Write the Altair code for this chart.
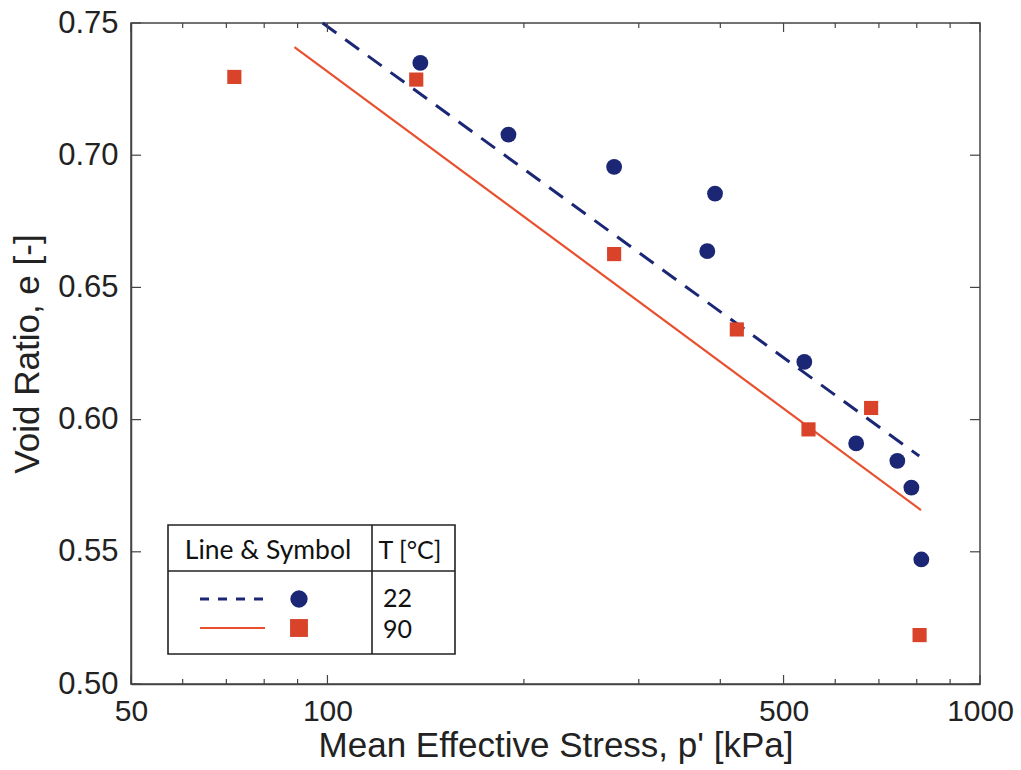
import altair as alt
import pandas as pd

# ---- data ----
p_22 = [138.8, 189.4, 275, 392.6, 382, 538, 646, 747, 785, 813]
e_22 = [0.7349, 0.7078, 0.6956, 0.6855, 0.6637, 0.6218, 0.5910, 0.5844, 0.5743, 0.5471]
p_90 = [72, 136.8, 275, 424, 546, 681, 808]
e_90 = [0.7296, 0.7286, 0.6626, 0.6341, 0.5963, 0.6044, 0.5185]

line22_p = [98.3, 807]
line22_e = [0.7500, 0.5862]
line90_p = [89, 812]
line90_e = [0.7409, 0.5658]

x_major = [50, 100, 500, 1000]
x_minor = [60, 70, 80, 90, 200, 300, 400, 600, 700, 800, 900]
y_ticks = [0.50, 0.55, 0.60, 0.65, 0.70, 0.75]

legend_header = ["Line & Symbol", "T [°C]"]
legend_temps = ["22", "90"]

W, H = 849, 661
BLUE = "#1b2775"
RED = "#d8432a"
REDLINE = "#e8502e"
AX = "#444444"
FONT = "Liberation Sans"
LFONT = "Lato"

xscale = alt.Scale(type="log", domain=[50, 1000])
yscale = alt.Scale(domain=[0.5, 0.75])

XAXIS = alt.Axis(values=x_major, title="Mean Effective Stress, p' [kPa]",
                 tickSize=0, labelPadding=12, labelFlush=False, labelOverlap=False,
                 labelFontSize=30, titleFontSize=35, titlePadding=2,
                 grid=False, format="d")
YAXIS = alt.Axis(values=y_ticks, title="Void Ratio, e [-]", format=".2f",
                 tickSize=0, labelPadding=13, labelFontSize=31,
                 titleFontSize=35, titlePadding=12, grid=False)


def X():
    return alt.X("p:Q", scale=xscale, axis=XAXIS)


def Y():
    return alt.Y("e:Q", scale=yscale, axis=YAXIS)


pts22 = pd.DataFrame({"p": p_22, "e": e_22})
pts90 = pd.DataFrame({"p": p_90, "e": e_90})
l22 = pd.DataFrame({"p": line22_p, "e": line22_e})
l90 = pd.DataFrame({"p": line90_p, "e": line90_e})

line22 = alt.Chart(l22).mark_line(color=BLUE, strokeWidth=3, strokeDash=[17, 11]).encode(x=X(), y=Y())
line90 = alt.Chart(l90).mark_line(color=REDLINE, strokeWidth=2.2).encode(x=X(), y=Y())
circ = alt.Chart(pts22).mark_point(shape="circle", filled=True, size=250, color=BLUE, opacity=1).encode(x=X(), y=Y())
sq = alt.Chart(pts90).mark_point(shape="square", filled=True, size=200, color=RED, opacity=1).encode(x=X(), y=Y())

# inward ticks
xmaj = pd.DataFrame({"p": x_major})
xmin = pd.DataFrame({"p": x_minor})
yt = pd.DataFrame({"e": y_ticks})


def xticks(df, length):
    bot = alt.Chart(df).mark_rule(color=AX, strokeWidth=1.2).encode(
        x=X(), y=alt.value(H), y2=alt.value(H - length))
    top = alt.Chart(df).mark_rule(color=AX, strokeWidth=1.2).encode(
        x=X(), y=alt.value(0), y2=alt.value(length))
    return [bot, top]


yl = alt.Chart(yt).mark_rule(color=AX, strokeWidth=1.2).encode(
    y=Y(), x=alt.value(0), x2=alt.value(10))
yr = alt.Chart(yt).mark_rule(color=AX, strokeWidth=1.2).encode(
    y=Y(), x=alt.value(W), x2=alt.value(W - 10))

# ---- legend table (decoration) ----
one = pd.DataFrame({"k": [0]})
LX0, LX1, LY0, LY1 = 37, 324, 502, 631
COLX, ROWY = 241, 548
box = alt.Chart(one).mark_rect(fill="white", stroke="#222222", strokeWidth=1.6).encode(
    x=alt.value(LX0), x2=alt.value(LX1), y=alt.value(LY0), y2=alt.value(LY1))
vdiv = alt.Chart(one).mark_rule(color="#222222", strokeWidth=1.6).encode(
    x=alt.value(COLX), y=alt.value(LY0), y2=alt.value(LY1))
hdiv = alt.Chart(one).mark_rule(color="#222222", strokeWidth=1.6).encode(
    x=alt.value(LX0), x2=alt.value(LX1), y=alt.value(ROWY))

hdr = pd.DataFrame({"t": legend_header})
temps = pd.DataFrame({"t": legend_temps})
TXT = dict(font=LFONT, color="#111111", baseline="alphabetic")
hdr1 = alt.Chart(hdr.iloc[[0]]).mark_text(align="center", fontSize=26.5, **TXT).encode(
    x=alt.value(137), y=alt.value(536), text="t:N")
hdr2 = alt.Chart(hdr.iloc[[1]]).mark_text(align="center", fontSize=25, **TXT).encode(
    x=alt.value(279), y=alt.value(536), text="t:N")
t1 = alt.Chart(temps.iloc[[0]]).mark_text(align="left", fontSize=25, **TXT).encode(
    x=alt.value(252), y=alt.value(584), text="t:N")
t2 = alt.Chart(temps.iloc[[1]]).mark_text(align="left", fontSize=25, **TXT).encode(
    x=alt.value(252), y=alt.value(615), text="t:N")
lg_dash = alt.Chart(one).mark_rule(color=BLUE, strokeWidth=3, strokeDash=[9, 9]).encode(
    x=alt.value(69), x2=alt.value(134), y=alt.value(576))
lg_solid = alt.Chart(one).mark_rule(color=REDLINE, strokeWidth=2.2).encode(
    x=alt.value(69), x2=alt.value(134), y=alt.value(605))
lg_circ = alt.Chart(one).mark_point(shape="circle", filled=True, size=300, color=BLUE, opacity=1).encode(
    x=alt.value(168), y=alt.value(576))
lg_sq = alt.Chart(one).mark_point(shape="square", filled=True, size=320, color=RED, opacity=1).encode(
    x=alt.value(168), y=alt.value(605))

layers = [line22, line90, circ, sq] + xticks(xmaj, 9) + xticks(xmin, 5) + [yl, yr,
          box, vdiv, hdiv, hdr1, hdr2, t1, t2, lg_dash, lg_solid, lg_circ, lg_sq]

chart = alt.layer(*layers).properties(
    width=W, height=H,
    autosize=alt.AutoSizeParams(type="none"),
    padding={"left": 131, "top": 23, "right": 41, "bottom": 86},
    background="white",
).configure_view(
    stroke=AX, strokeWidth=1.5
).configure_axis(
    labelFont=FONT, titleFont=FONT, labelColor="#222222", titleColor="#222222",
    titleFontWeight="normal", domainColor=AX, domainWidth=1.5,
)

chart.save("out.html", embed_options={"renderer": "svg", "actions": False})
